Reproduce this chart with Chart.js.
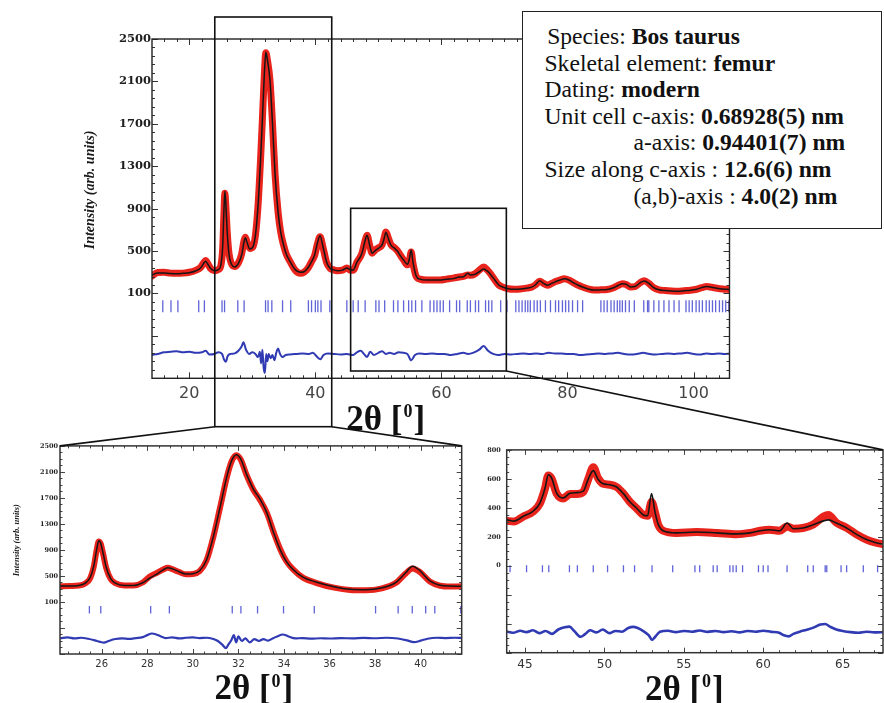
<!DOCTYPE html>
<html>
<head>
<meta charset="utf-8">
<title>Bos taurus femur – X-ray powder diffraction refinement</title>
<script src="https://cdn.jsdelivr.net/npm/chart.js@4.4.1/dist/chart.umd.min.js"></script>
<style>
  html, body { margin: 0; padding: 0; background: #fff; }
  #page { position: relative; width: 884px; height: 703px; overflow: hidden; background: #fff; }
  canvas { position: absolute; display: block; }
  #overview { left: 0; top: 0; z-index: 1; }
  #detailLow { left: 0; top: 440px; z-index: 1; }
  #detailHigh { left: 470px; top: 440px; z-index: 1; }
  #links { left: 0; top: 0; z-index: 2; pointer-events: none; }
  #sampleInfo {
    position: absolute; left: 522px; top: 11px; width: 357.7px; height: 216px; z-index: 3;
    border: 1.5px solid #222; background: #fff; color: #111;
    font-family: 'Liberation Serif', 'Times New Roman', serif; font-size: 23.6px;
  }
  #sampleInfo div { position: absolute; white-space: nowrap; line-height: 26.6px; }
  #sampleInfo b { font-weight: bold; }
</style>
</head>
<body>
<div id="page">
  <canvas id="overview" width="884" height="440"></canvas>
  <canvas id="detailLow" width="470" height="263"></canvas>
  <canvas id="detailHigh" width="414" height="263"></canvas>
  <canvas id="links" width="884" height="703"></canvas>
  <div id="sampleInfo">
    <div style="left:24.2px;top:11px">Species: <b>Bos taurus</b></div>
    <div style="left:21.5px;top:37.6px">Skeletal element: <b>femur</b></div>
    <div style="left:21.5px;top:64.2px">Dating: <b>modern</b></div>
    <div style="left:21.5px;top:90.8px">Unit cell c-axis: <b>0.68928(5) nm</b></div>
    <div style="left:110.5px;top:117.4px">a-axis: <b>0.94401(7) nm</b></div>
    <div style="left:21.5px;top:144px">Size along c-axis : <b>12.6(6) nm</b></div>
    <div style="left:110.5px;top:170.6px">(a,b)-axis : <b>4.0(2) nm</b></div>
  </div>
</div>
<script>
// ---------------- Overview pattern (upper panel, its own 2θ axis) ----------------
const overviewAngle = [
  14.1, 15.0, 16.0, 17.0, 18.0, 19.0, 20.0, 21.0, 21.8, 22.3, 22.6, 22.9, 23.4, 24.0, 24.6,
  25.0, 25.3, 25.5, 25.65, 25.8, 26.0, 26.3, 26.7, 27.2, 27.8, 28.3, 28.7, 28.9, 29.2, 29.6,
  30.1, 30.5, 30.9, 31.3, 31.6, 31.9, 32.15, 32.4, 32.8, 33.2, 33.6, 34.1, 34.5, 34.9, 35.4,
  36.0, 36.8, 37.6, 38.2, 38.8, 39.4, 39.9, 40.3, 40.75, 41.2, 41.8, 42.3, 42.8, 43.5, 44.3,
  45.0, 45.5, 46.0, 46.6, 47.4, 47.9, 48.2, 48.6, 49.0, 49.5, 50.0, 50.6, 50.9, 51.2, 51.6,
  52.0, 52.5, 53.0, 53.5, 54.0, 54.6, 54.9, 55.2, 55.5, 56.0, 56.6, 57.7, 58.8, 59.8, 60.8,
  61.9, 62.8, 63.5, 64.2, 64.6, 65.3, 66.0, 66.7, 67.3, 67.8, 68.5, 69.1, 69.9, 70.6, 71.5,
  72.5, 73.5, 74.3, 74.9, 75.6, 76.2, 76.8, 77.5, 78.1, 78.8, 79.5, 80.3, 81.0, 81.8, 82.6,
  83.4, 84.2, 85.2, 86.3, 87.2, 88.0, 88.7, 89.3, 90.0, 90.7, 91.5, 92.2, 92.9, 93.6, 94.5,
  95.5, 96.5, 97.5, 98.5, 99.5, 100.5, 101.3, 102.1, 102.9, 103.7, 104.6, 105.7
];
const overviewObserved = [
  265, 298, 300, 292, 290, 292, 300, 318, 345, 390, 410, 385, 335, 315, 325,
  360, 520, 850, 1045, 930, 700, 480, 380, 355, 390, 470, 600, 630, 580, 525,
  540, 650, 920, 1350, 1740, 2150, 2370, 2300, 2115, 1710, 1235, 860, 680, 570, 470,
  400, 320, 290, 300, 335, 400, 460, 560, 635, 540, 390, 340, 325, 315, 320,
  340, 320, 320, 395, 480, 600, 650, 560, 480, 510, 530, 560, 620, 680, 620,
  560, 535, 505, 460, 415, 370, 400, 490, 380, 260, 235, 226, 228, 226, 235,
  245, 255, 262, 275, 272, 285, 320, 350, 320, 285, 225, 180, 157, 145, 140,
  142, 150, 160, 180, 216, 195, 178, 195, 212, 226, 240, 225, 200, 175, 157,
  140, 132, 134, 138, 152, 175, 192, 185, 162, 165, 200, 220, 195, 158, 135,
  128, 124, 122, 126, 130, 140, 155, 165, 158, 150, 143, 138
];
const overviewCalculated = [
  275, 294, 292, 288, 286, 290, 296, 312, 340, 385, 405, 380, 335, 315, 325,
  365, 540, 880, 1065, 950, 700, 470, 375, 350, 385, 460, 590, 625, 575, 520,
  540, 650, 920, 1350, 1740, 2155, 2375, 2300, 2115, 1710, 1235, 860, 680, 570, 470,
  400, 325, 300, 305, 340, 400, 465, 570, 645, 545, 395, 340, 325, 315, 320,
  340, 325, 320, 395, 480, 600, 650, 560, 480, 505, 525, 560, 615, 675, 615,
  555, 530, 500, 455, 415, 375, 420, 510, 390, 265, 235, 226, 228, 226, 235,
  240, 255, 258, 290, 275, 280, 305, 330, 310, 280, 225, 180, 157, 145, 140,
  142, 150, 160, 180, 220, 195, 178, 195, 212, 226, 238, 225, 200, 175, 157,
  140, 132, 134, 138, 152, 175, 192, 188, 162, 165, 200, 218, 195, 158, 135,
  128, 124, 122, 126, 130, 140, 155, 165, 158, 150, 143, 138
];
const overviewDiffAngle = [
  14.1, 15, 16, 17, 18, 19, 20, 21, 22, 22.6, 23.2, 24, 24.6, 25.2, 25.5, 25.8, 26.1, 26.6,
  27.2, 27.8, 28.3, 28.6, 29.0, 29.5, 30.0, 30.5, 30.9, 31.2, 31.4, 31.6, 31.8, 32.0, 32.2,
  32.4, 32.6, 32.9, 33.2, 33.5, 33.8, 34.1, 34.4, 34.8, 35.3, 36, 37, 38, 39, 39.6, 40.3,
  40.8, 41.3, 42, 43, 44, 45, 46, 46.6, 47.2, 47.7, 48.2, 48.7, 49.3, 50, 50.6, 51.2, 51.8,
  52.5, 53.2, 54, 54.6, 55.2, 55.8, 56.5, 57.5, 58.5, 59.5, 60.5, 61.5, 62.5, 63.5, 64.2,
  65.2, 66, 66.7, 67.4, 68.2, 69, 70, 71, 72, 73, 74, 75, 76, 77, 78, 79, 80, 81, 82, 83,
  84, 85, 86, 87, 88, 89, 90, 91, 92, 93, 94, 95, 96, 97, 98, 99, 100, 101, 102, 103, 104,
  105, 105.7
];
const overviewDifference = [
  -480, -470, -455, -450, -445, -455, -450, -460, -455, -440, -475, -470, -455, -470, -520, -545, -490, -470,
  -465, -440, -400, -360, -430, -470, -455, -470, -500, -450, -560, -430, -600, -650, -470,
  -540, -470, -510, -480, -530, -460, -420, -470, -500, -480, -475, -470, -465, -470, -460, -500,
  -520, -480, -465, -470, -475, -470, -480, -455, -440, -470, -500, -450, -480, -460, -445, -470, -460,
  -470, -455, -460, -470, -530, -480, -465, -470, -465, -470, -470, -480, -470, -460, -470,
  -455, -430, -395, -440, -470, -480, -470, -475, -470, -465, -470, -465, -470, -460, -465, -465, -470, -470, -480, -475,
  -470, -465, -470, -465, -460, -470, -475, -470, -460, -470, -475, -470, -465, -470, -465, -460, -470, -475, -465, -470, -465,
  -470, -468
];
const overviewReflections = [
  15.8, 17.1, 18.2, 21.5, 22.4, 25.2, 25.6, 27.7, 28.7, 32.1, 32.5, 33.1, 34.8, 36.1, 38.9,
  39.4, 40.0, 40.4, 40.9, 42.3, 45.0, 46.0, 46.8, 47.9, 49.6, 50.1, 51.0, 52.4, 53.1, 54.0,
  54.8, 55.3, 55.9, 56.9, 58.2, 58.8, 59.3, 59.8, 60.3, 61.3, 62.4, 62.9, 64.1, 64.6, 65.4,
  65.9, 67.0, 67.5, 68.0, 69.4, 70.4, 71.8, 72.3, 72.8, 73.3, 73.7, 74.1, 74.7, 75.2, 75.7,
  76.5, 77.3, 78.1, 78.6, 79.2, 79.7, 80.2, 80.8, 81.6, 82.4, 85.3, 85.8, 86.3, 86.9, 87.4,
  87.9, 88.3, 88.7, 89.2, 89.8, 90.6, 92.1, 92.7, 92.9, 93.7, 94.5, 95.3, 96.1, 96.9, 97.7,
  98.8, 99.3, 99.8, 100.4, 100.9, 101.4, 102.0, 102.5, 103.0, 103.5, 104.1, 104.6, 105.1, 105.6
];
const overviewXTicks = [20, 40, 60, 80, 100];
const overviewYTicks = [100, 500, 900, 1300, 1700, 2100, 2500];
const overviewZoomRanges = [[24.05, 42.6], [45.6, 70.3]];

// ---------------- Detail pattern (lower panels, 2θ in degrees) ----------------
const detailAngle = [
  24.15, 24.6, 25.0, 25.3, 25.5, 25.65, 25.78, 25.87, 25.95, 26.05, 26.2, 26.4, 26.6, 27.0, 27.4,
  27.8, 28.1, 28.4, 28.7, 28.9, 29.1, 29.4, 29.7, 30.0, 30.3, 30.6, 30.9, 31.2, 31.5, 31.7,
  31.9, 32.1, 32.35, 32.65, 32.95, 33.25, 33.55, 33.85, 34.1, 34.4, 34.85, 35.4, 36.2, 36.9, 37.6,
  38.3, 38.9, 39.35, 39.64, 39.95, 40.4, 40.85, 41.3, 41.8, 42.5, 43.2, 43.85, 44.3, 44.9, 45.5,
  45.94, 46.26, 46.47, 46.68, 47.0, 47.4, 47.83, 48.25, 48.67, 48.99, 49.3, 49.6, 49.93, 50.35, 50.77,
  51.2, 51.6, 52.03, 52.45, 52.72, 52.97, 53.18, 53.4, 53.7, 54.55, 55.8, 57.07, 58.33, 59.17, 59.8,
  60.4, 61.05, 61.5, 61.9, 62.5, 63.15, 63.8, 64.1, 64.6, 65.25, 65.9, 66.5, 67.1, 67.6
];
const detailObserved = [
  340, 345, 352, 390, 470, 640, 900, 1030, 1000, 860, 620, 450, 390, 355, 355,
  400, 490, 545, 600, 625, 605, 560, 525, 530, 575, 740, 1100, 1560, 2030, 2260,
  2355, 2290, 2060, 1830, 1670, 1470, 1170, 900, 730, 600, 470, 395, 320, 285, 280,
  310, 390, 540, 615, 565, 415, 350, 338, 340, 330, 315, 310, 306, 340, 374,
  430, 532, 623, 600, 498, 465, 495, 495, 510, 600, 680, 605, 566, 560, 544,
  498, 442, 397, 351, 345, 440, 370, 280, 242, 227, 233, 227, 218, 227, 242,
  249, 242, 272, 256, 261, 285, 340, 351, 298, 262, 215, 181, 159, 147
];
const detailCalculated = [
  345, 345, 355, 395, 480, 650, 910, 1040, 1010, 870, 630, 455, 390, 355, 355,
  395, 465, 525, 595, 625, 610, 565, 530, 535, 580, 745, 1105, 1565, 2040, 2270,
  2365, 2300, 2070, 1840, 1680, 1470, 1160, 890, 725, 600, 478, 408, 335, 295, 288,
  318, 398, 552, 650, 585, 425, 358, 344, 342, 332, 318, 317, 308, 342, 376,
  432, 535, 628, 605, 500, 468, 500, 505, 515, 600, 657, 598, 566, 560, 544,
  498, 442, 397, 351, 345, 498, 374, 283, 242, 227, 233, 227, 220, 227, 242,
  249, 242, 295, 256, 261, 283, 310, 317, 295, 261, 215, 181, 159, 147
];
const detailDiffAngle = [
  24.2, 24.5, 24.8, 25.1, 25.4, 25.7, 25.9, 26.1, 26.3, 26.6, 26.9, 27.2, 27.5, 27.8, 28.0,
  28.2, 28.4, 28.6, 28.8, 29.1, 29.4, 29.7, 30.0, 30.3, 30.6, 30.9, 31.1, 31.3, 31.45, 31.55,
  31.7, 31.8, 31.9, 32.0, 32.15, 32.3, 32.5, 32.7, 32.9, 33.1, 33.3, 33.5, 33.7, 33.95, 34.2,
  34.5, 34.8, 35.2, 35.6, 36.0, 36.5, 37.0, 37.5, 38.0, 38.5, 39.0, 39.4, 39.7, 40.0, 40.3,
  40.7, 41.1, 41.5, 41.8, 42.5, 43.2, 43.9, 44.3, 44.7, 45.1, 45.5, 45.9, 46.3, 46.7, 47.1,
  47.5, 47.8, 48.1, 48.5, 48.8, 49.1, 49.5, 49.9, 50.3, 50.7, 51.1, 51.5, 51.8, 52.1, 52.5,
  52.8, 53.0, 53.2, 53.5, 54.0, 54.5, 55.0, 55.5, 56.0, 56.5, 57.0, 57.5, 58.0, 58.5, 59.0,
  59.5, 60.0, 60.5, 61.0, 61.3, 61.6, 61.9, 62.3, 62.8, 63.2, 63.6, 63.9, 64.2, 64.6, 65.0,
  65.5, 66.0, 66.5, 67.0, 67.6
];
const detailDifference = [
  -455, -445, -460, -450, -465, -490, -510, -525, -500, -470, -460, -468, -455, -440, -410,
  -385, -400, -430, -455, -445, -460, -450, -445, -455, -450, -470, -500, -560, -610, -560,
  -480, -410, -520, -430, -500, -460, -520, -470, -500, -470, -495, -460, -430, -400, -430,
  -460, -455, -465, -458, -462, -455, -460, -452, -458, -450, -462, -490, -518, -495, -465,
  -450, -455, -450, -452, -455, -450, -455, -462, -448, -458, -445, -465, -450, -470, -440,
  -425, -420, -450, -490, -470, -445, -460, -440, -465, -450, -455, -430, -422, -430, -455,
  -480, -512, -490, -455, -448, -458, -450, -455, -447, -456, -450, -458, -452, -460, -450,
  -455, -448, -456, -462, -480, -487, -470, -455, -440, -425, -405, -402, -420, -440, -450,
  -458, -462, -455, -460, -458
];
const detailReflections = [
  25.46, 25.96, 28.15, 28.97, 31.73, 32.11, 32.84, 33.98, 35.33, 38.02, 39.01, 39.63, 40.22, 40.62, 41.76,
  44.06, 45.1, 46.1, 46.5, 47.8, 48.3, 49.3, 50.2, 51.2, 51.9, 53.0, 54.3, 55.7, 56.0, 56.85,
  57.1, 57.9, 58.1, 58.3, 58.7, 59.7, 60.0, 60.3, 61.5, 62.8, 63.15, 63.9, 64.0, 64.9, 65.25,
  66.3, 67.2
];
const detailLowXTicks = [26, 28, 30, 32, 34, 36, 38, 40];
const detailLowYTicks = [100, 500, 900, 1300, 1700, 2100, 2500];
const detailHighXTicks = [45, 50, 55, 60, 65];
const detailHighYTicks = [0, 200, 400, 600, 800];

// intensity level at which the reflection markers sit
const REFLECTION_LEVEL = -20;

const angleTitle = ['2θ [', '0', ']'];
const intensityTitle = 'Intensity (arb. units)';

// ---------------- styling ----------------
const SERIF = "'Liberation Serif', 'Times New Roman', serif";
const RED = 'rgb(232, 36, 28)';
const BLACK = '#151515';
const DIFF_BLUE = 'rgb(48, 58, 178)';
const TICK_BLUE = 'rgb(96, 100, 215)';

Chart.defaults.font.family = "'DejaVu Sans', sans-serif";

const pts = (xs, ys) => xs.map((x, i) => ({ x, y: ys[i] }));

function drawAngleTitle(ctx, cx, baseline, size) {
  const big = `bold ${size}px ${SERIF}`;
  const small = `bold ${Math.round(size * 0.52)}px ${SERIF}`;
  ctx.font = big;
  const w1 = ctx.measureText(angleTitle[0]).width;
  const w3 = ctx.measureText(angleTitle[2]).width;
  ctx.font = small;
  const w2 = ctx.measureText(angleTitle[1]).width;
  const x0 = cx - (w1 + w2 + w3) / 2;
  ctx.fillStyle = '#111';
  ctx.textAlign = 'left';
  ctx.textBaseline = 'alphabetic';
  ctx.font = big;
  ctx.fillText(angleTitle[0], x0, baseline);
  ctx.font = small;
  ctx.fillText(angleTitle[1], x0 + w1 + 1, baseline - size * 0.36);
  ctx.font = big;
  ctx.fillText(angleTitle[2], x0 + w1 + w2 + 2, baseline);
}

// Frame with inward minor/major ticks on all four sides, zoom windows and axis titles
const panelDecor = {
  id: 'panelDecor',
  afterDraw(chart, args, o) {
    const { ctx, chartArea: a } = chart;
    const x = chart.scales.x, y = chart.scales.y;
    ctx.save();
    ctx.strokeStyle = o.tickColor;
    ctx.lineWidth = 1;
    const seg = (x1, y1, x2, y2) => { ctx.beginPath(); ctx.moveTo(x1, y1); ctx.lineTo(x2, y2); ctx.stroke(); };
    for (const [step, len] of [[o.xMinor, o.minorLen], [o.xMajor, o.majorLen]]) {
      for (let k = Math.ceil(x.min / step - 1e-6); k * step <= x.max + 1e-6; k++) {
        const px = Math.round(x.getPixelForValue(k * step)) + 0.5;
        seg(px, a.bottom, px, a.bottom - len);
        seg(px, a.top, px, a.top + len);
      }
    }
    for (const [step, len] of [[o.yMinor, o.minorLen], [o.yMajor, o.majorLen]]) {
      for (let k = 0; y.min + k * step <= y.max + 1e-6; k++) {
        const py = Math.round(y.getPixelForValue(y.min + k * step)) + 0.5;
        seg(a.left, py, a.left + len, py);
        seg(a.right, py, a.right - len, py);
      }
    }
    ctx.strokeStyle = o.frameColor;
    ctx.lineWidth = o.frameWidth;
    ctx.strokeRect(a.left, a.top, a.right - a.left, a.bottom - a.top);

    if (o.windows) {
      ctx.strokeStyle = '#111';
      ctx.lineWidth = 1.6;
      for (const w of o.windows) {
        const l = x.getPixelForValue(w.from), r = x.getPixelForValue(w.to);
        const t = a.top + w.top, b = a.bottom + w.bottom;
        ctx.strokeRect(l, t, r - l, b - t);
      }
    }
    if (o.xTitle) {
      drawAngleTitle(ctx, (a.left + a.right) / 2 + o.xTitle.dx, a.bottom + o.xTitle.dy, o.xTitle.size);
    }
    if (o.yTitle) {
      ctx.save();
      ctx.translate(a.left + o.yTitle.dx, a.top + o.yTitle.dy);
      ctx.rotate(-Math.PI / 2);
      ctx.font = o.yTitle.font;
      ctx.fillStyle = '#1a1a1a';
      ctx.textAlign = 'center';
      ctx.textBaseline = 'middle';
      ctx.fillText(intensityTitle, 0, 0);
      ctx.restore();
    }
    ctx.restore();
  }
};

function patternChart(canvasId, cfg) {
  return new Chart(document.getElementById(canvasId), {
    type: 'line',
    data: {
      datasets: [
        { label: 'Calculated', data: pts(cfg.angle, cfg.calc), borderColor: BLACK, borderWidth: cfg.calcWidth, order: 0 },
        { label: 'Observed', data: pts(cfg.angle, cfg.obs), borderColor: RED, borderWidth: cfg.obsWidth, order: 1 },
        { label: 'Difference', data: pts(cfg.diffAngle, cfg.diff), borderColor: DIFF_BLUE, borderWidth: cfg.diffWidth, order: 2 },
        {
          type: 'scatter', label: 'Bragg reflections',
          data: cfg.refl.map(v => ({ x: v, y: REFLECTION_LEVEL })),
          pointStyle: 'line', pointRotation: 90, pointRadius: cfg.reflRadius,
          pointBorderColor: TICK_BLUE, borderColor: TICK_BLUE, pointBorderWidth: 1.3,
          showLine: false, order: 3
        }
      ]
    },
    options: {
      responsive: false, animation: false, events: [], devicePixelRatio: 1,
      layout: { padding: cfg.padding, autoPadding: false },
      datasets: { line: { clip: 0, pointRadius: 0, cubicInterpolationMode: 'monotone', borderJoinStyle: 'round', borderCapStyle: 'round' } },
      scales: {
        x: {
          type: 'linear', min: cfg.xMin, max: cfg.xMax,
          afterBuildTicks: s => { s.ticks = cfg.xTicks.map(v => ({ value: v })); },
          afterFit: s => { s.height = cfg.xAxisHeight; },
          grid: { display: false, drawTicks: false }, border: { display: false },
          ticks: { color: cfg.xTickColor, font: { family: "'DejaVu Sans', sans-serif", size: cfg.xTickSize }, padding: cfg.xTickPad, maxRotation: 0, autoSkip: false, callback: v => String(v) }
        },
        y: {
          type: 'linear', min: cfg.yMin, max: cfg.yMax,
          afterBuildTicks: s => { s.ticks = cfg.yTicks.map(v => ({ value: v })); },
          afterFit: s => { s.width = cfg.yAxisWidth; },
          grid: { display: false, drawTicks: false }, border: { display: false },
          ticks: { color: '#1e1e1e', font: { family: "'DejaVu Serif', serif", size: cfg.yTickSize, weight: 'bold' }, padding: cfg.yTickPad, autoSkip: false, callback: v => String(v) }
        }
      },
      plugins: { legend: { display: false }, tooltip: { enabled: false }, panelDecor: cfg.decor }
    },
    plugins: [panelDecor]
  });
}

const overviewChart = patternChart('overview', {
  angle: overviewAngle, obs: overviewObserved, calc: overviewCalculated,
  diffAngle: overviewDiffAngle, diff: overviewDifference, refl: overviewReflections,
  obsWidth: 7, calcWidth: 1.5, diffWidth: 2, reflRadius: 6,
  xMin: 14.09, xMax: 105.7, yMin: -700, yMax: 2500,
  xTicks: overviewXTicks, yTicks: overviewYTicks,
  padding: { left: 0, top: 39, right: 154.5, bottom: 21.7 },
  xAxisHeight: 40, yAxisWidth: 152,
  xTickColor: '#444', xTickSize: 16, xTickPad: 6.3, yTickSize: 11.5, yTickPad: 1,
  decor: {
    tickColor: '#333', frameColor: '#222', frameWidth: 1.4,
    xMinor: 2, xMajor: 20, yMinor: 80, yMajor: 400, minorLen: 3, majorLen: 6,
    windows: [
      { from: overviewZoomRanges[0][0], to: overviewZoomRanges[0][1], top: -22, bottom: 48.4 },
      { from: overviewZoomRanges[1][0], to: overviewZoomRanges[1][1], top: 169.3, bottom: -7.3 }
    ],
    xTitle: { dx: -56, dy: 51.7, size: 35 },
    yTitle: { dx: -61.3, dy: 151, font: `bold italic 14px ${SERIF}` }
  }
});

const detailLowChart = patternChart('detailLow', {
  angle: detailAngle, obs: detailObserved, calc: detailCalculated,
  diffAngle: detailDiffAngle, diff: detailDifference, refl: detailReflections,
  obsWidth: 6, calcWidth: 1.5, diffWidth: 2.2, reflRadius: 3.8,
  xMin: 24.17, xMax: 41.8, yMin: -700, yMax: 2500,
  xTicks: detailLowXTicks, yTicks: detailLowYTicks,
  padding: { left: 0, top: 5.7, right: 8.3, bottom: 23 },
  xAxisHeight: 26, yAxisWidth: 60,
  xTickColor: '#333', xTickSize: 10, xTickPad: 4, yTickSize: 6.5, yTickPad: 2,
  decor: {
    tickColor: '#444', frameColor: '#333', frameWidth: 1.5,
    xMinor: 0.5, xMajor: 2, yMinor: 100, yMajor: 400, minorLen: 2.5, majorLen: 5,
    xTitle: { dx: -8, dy: 45.3, size: 35 },
    yTitle: { dx: -43.3, dy: 94.3, font: `bold italic 8.5px ${SERIF}` }
  }
});

const detailHighChart = patternChart('detailHigh', {
  angle: detailAngle, obs: detailObserved, calc: detailCalculated,
  diffAngle: detailDiffAngle, diff: detailDifference, refl: detailReflections,
  obsWidth: 8, calcWidth: 1.6, diffWidth: 2.6, reflRadius: 3.5,
  xMin: 43.85, xMax: 67.54, yMin: -600, yMax: 800,
  xTicks: detailHighXTicks, yTicks: detailHighYTicks,
  padding: { left: 0, top: 7.3, right: 1, bottom: 24.3 },
  xAxisHeight: 26, yAxisWidth: 36.7,
  xTickColor: '#333', xTickSize: 12, xTickPad: 4.8, yTickSize: 6.5, yTickPad: 6,
  decor: {
    tickColor: '#444', frameColor: '#333', frameWidth: 1.5,
    xMinor: 1, xMajor: 5, yMinor: 50, yMajor: 200, minorLen: 2.5, majorLen: 5,
    xTitle: { dx: -11.5, dy: 47.3, size: 35 }
  }
});

// Lines joining the zoom windows of the overview to the detail panels
(function drawLinks() {
  const canvas = document.getElementById('links');
  const ctx = canvas.getContext('2d');
  const off = c => ({ x: c.canvas.offsetLeft, y: c.canvas.offsetTop });
  const win = overviewChart.options.plugins.panelDecor.windows;
  const mo = off(overviewChart), ma = overviewChart.chartArea, mx = overviewChart.scales.x;
  const lo = off(detailLowChart), la = detailLowChart.chartArea;
  const ho = off(detailHighChart), ha = detailHighChart.chartArea;
  const w1b = mo.y + ma.bottom + win[0].bottom;
  const w2b = mo.y + ma.bottom + win[1].bottom;
  const links = [
    [mo.x + mx.getPixelForValue(win[0].from), w1b, lo.x + la.left, lo.y + la.top],
    [mo.x + mx.getPixelForValue(win[0].to), w1b, lo.x + la.right, lo.y + la.top],
    [mo.x + mx.getPixelForValue(win[1].to), w2b, ho.x + ha.right, ho.y + ha.top]
  ];
  ctx.strokeStyle = '#111';
  ctx.lineWidth = 1.6;
  for (const [x1, y1, x2, y2] of links) {
    ctx.beginPath(); ctx.moveTo(x1, y1); ctx.lineTo(x2, y2); ctx.stroke();
  }
})();
</script>
</body>
</html>
